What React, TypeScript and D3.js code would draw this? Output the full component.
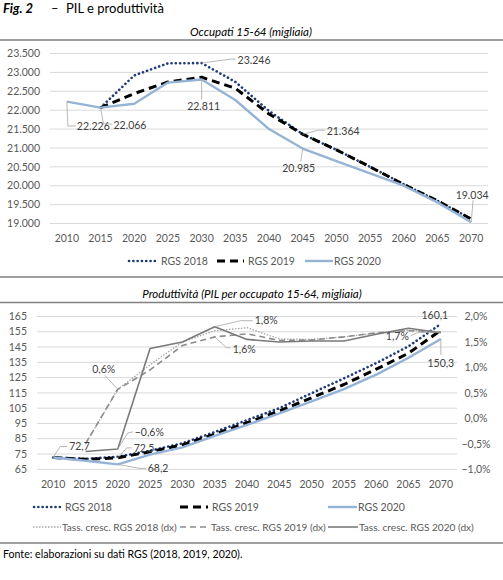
import React from 'react';
import * as d3 from 'd3';

// ---------- DATA ----------
const years = ['2010', '2015', '2020', '2025', '2030', '2035', '2040', '2045', '2050', '2055', '2060', '2065', '2070'];

// Occupati 15-64 (migliaia)
const occRGS2018: (number | null)[] = [null, 22066, 22920, 23240, 23246, 22750, 21980, 21364, 20950, 20500, 20040, 19600, 19120];
const occRGS2019: (number | null)[] = [null, 22066, 22440, 22745, 22870, 22580, 21900, 21364, 20950, 20500, 20030, 19600, 19120];
const occRGS2020: (number | null)[] = [22226, 22066, 22170, 22730, 22811, 22270, 21500, 20985, 20650, 20330, 20000, 19560, 19034];
const occTicks = [19000, 19500, 20000, 20500, 21000, 21500, 22000, 22500, 23000, 23500];

// Produttività (PIL per occupato 15-64, migliaia)
const prodRGS2018: (number | null)[] = [72.7, 71.8, 73.2, 77.2, 82.0, 89.4, 97.2, 105.0, 114.8, 124.5, 134.5, 145.5, 160.1];
const prodRGS2019: (number | null)[] = [72.7, 71.5, 72.5, 76.5, 81.0, 88.0, 95.5, 103.2, 111.8, 120.5, 130.5, 141.0, 156.0];
const prodRGS2020: (number | null)[] = [72.7, 70.6, 68.2, 74.6, 79.4, 86.8, 94.0, 101.6, 109.5, 117.5, 127.0, 138.0, 150.3];
// Tassi di crescita (%) – asse destro
const growthRGS2018: (number | null)[] = [null, -0.5, 0.57, 1.05, 1.5, 1.72, 1.78, 1.56, 1.55, 1.6, 1.67, 1.73, 1.7];
const growthRGS2019: (number | null)[] = [null, -0.5, 0.57, 0.95, 1.43, 1.6, 1.66, 1.53, 1.54, 1.6, 1.68, 1.72, 1.7];
const growthRGS2020: (number | null)[] = [null, -0.65, -0.6, 1.37, 1.5, 1.8, 1.55, 1.5, 1.52, 1.52, 1.65, 1.77, 1.68];
const prodTicks = [65, 75, 85, 95, 105, 115, 125, 135, 145, 155, 165];
const growthTicks = [-1.0, -0.5, 0.0, 0.5, 1.0, 1.5, 2.0];

// ---------- STYLE ----------
const FONT = 'Lato, "Open Sans", sans-serif';
const TICK = '#595959';
const LABEL = '#404040';
const GRID = '#d9d9d9';
const SEP = '#7f7f7f';

const itLocale = d3.formatLocale({ decimal: ',', thousands: '.', grouping: [3], currency: ['€', ''] });
const fmtThousands = itLocale.format(',.0f');
const fmtOne = itLocale.format('.1f');
const fmtPct = (v: number) => itLocale.format('.1f')(v) + '%';

type Series = { name: string; values: (number | null)[]; stroke: string; width: number; dash?: string; cap?: string };

const occSeries: Series[] = [
  { name: 'RGS 2018', values: occRGS2018, stroke: '#1f3a78', width: 2.6, dash: '0.1 4.2', cap: 'round' },
  { name: 'RGS 2019', values: occRGS2019, stroke: '#000000', width: 3, dash: '8 5' },
  { name: 'RGS 2020', values: occRGS2020, stroke: '#95b3d7', width: 2.4 },
];
const prodSeries: Series[] = [
  { name: 'RGS 2018', values: prodRGS2018, stroke: '#1f3a78', width: 2.6, dash: '0.1 4.2', cap: 'round' },
  { name: 'RGS 2019', values: prodRGS2019, stroke: '#000000', width: 3, dash: '8 5' },
  { name: 'RGS 2020', values: prodRGS2020, stroke: '#95b3d7', width: 2.4 },
];
const growthSeries: Series[] = [
  { name: 'Tass. cresc. RGS 2018 (dx)', values: growthRGS2018, stroke: '#a6a6a6', width: 1.3, dash: '1.5 1.5' },
  { name: 'Tass. cresc. RGS 2019 (dx)', values: growthRGS2019, stroke: '#8c8c8c', width: 1.6, dash: '6 4' },
  { name: 'Tass. cresc. RGS 2020 (dx)', values: growthRGS2020, stroke: '#7a7a7a', width: 1.6 },
];

function linePath(values: (number | null)[], x: d3.ScaleBand<string>, y: d3.ScaleLinear<number, number>) {
  const gen = d3
    .line<number | null>()
    .defined((d) => d !== null)
    .x((_, i) => (x(years[i]) as number) + x.bandwidth() / 2)
    .y((d) => y(d as number));
  return gen(values) || '';
}

function SeriesPath({ s, x, y }: { s: Series; x: d3.ScaleBand<string>; y: d3.ScaleLinear<number, number> }) {
  return (
    <path
      d={linePath(s.values, x, y)}
      fill="none"
      stroke={s.stroke}
      strokeWidth={s.width}
      strokeDasharray={s.dash}
      strokeLinecap={(s.cap as any) || 'butt'}
      strokeLinejoin="round"
    />
  );
}

type Lab = { text: string; px: number; py: number; pts: [number, number][]; tx: number; ty: number; anchor?: string };

function DataLabel({ l }: { l: Lab }) {
  const pts = [[l.px, l.py], ...l.pts];
  return (
    <g>
      {l.pts.length > 0 && (
        <polyline points={pts.map((p) => p.join(',')).join(' ')} fill="none" stroke="#a6a6a6" strokeWidth={0.8} />
      )}
      <text x={l.tx} y={l.ty} dy="0.35em" textAnchor={(l.anchor as any) || 'start'} fontSize={10.5} fill={LABEL} fontFamily={FONT}>
        {l.text}
      </text>
    </g>
  );
}

function LegendItem({ s, x, y, len, gap, fs = 10.5 }: { s: Series; x: number; y: number; len: number; gap: number; fs?: number }) {
  return (
    <g>
      <line x1={x} x2={x + len} y1={y} y2={y} stroke={s.stroke} strokeWidth={s.width} strokeDasharray={s.dash} strokeLinecap={(s.cap as any) || 'butt'} />
      <text x={x + len + gap} y={y} dy="0.35em" fontSize={fs} fill={TICK} fontFamily={FONT}>
        {s.name}
      </text>
    </g>
  );
}

export default function App() {
  // ---- top chart scales ----
  const xT = d3.scaleBand<string>().domain(years).range([50, 488]).padding(0);
  const yT = d3.scaleLinear().domain([19000, 23500]).range([223.5, 53.5]);
  const cx = (x: d3.ScaleBand<string>, i: number) => (x(years[i]) as number) + x.bandwidth() / 2;

  // ---- bottom chart scales ----
  const xB = d3.scaleBand<string>().domain(years).range([37, 457]).padding(0);
  const yB = d3.scaleLinear().domain([65, 165]).range([469.3, 316.5]);
  const yR = d3.scaleLinear().domain([-1, 2]).range([469.3, 316.5]);

  const topLabels: Lab[] = [
    (() => { const px = cx(xT, 0), py = yT(occRGS2020[0] as number); return { text: fmtThousands(occRGS2020[0] as number), px, py, pts: [[px + 1, 126], [px + 9, 126]] as [number, number][], tx: px + 10, ty: 126 }; })(),
    (() => { const px = cx(xT, 1), py = yT(occRGS2020[1] as number); return { text: fmtThousands(occRGS2020[1] as number), px, py, pts: [[px + 3, 124], [px + 12, 124]] as [number, number][], tx: px + 13, ty: 125 }; })(),
    (() => { const px = cx(xT, 4), py = yT(occRGS2018[4] as number); return { text: fmtThousands(occRGS2018[4] as number), px, py, pts: [[px + 29, py - 4], [px + 34, py - 4]] as [number, number][], tx: px + 36, ty: py - 3 }; })(),
    (() => { const px = cx(xT, 4), py = yT(occRGS2020[4] as number); return { text: fmtThousands(occRGS2020[4] as number), px, py, pts: [[px, py + 20]] as [number, number][], tx: px + 2, ty: py + 27, anchor: 'middle' }; })(),
    (() => { const px = cx(xT, 7), py = yT(occRGS2019[7] as number); return { text: fmtThousands(occRGS2019[7] as number), px, py, pts: [[px + 16, py - 4], [px + 22, py - 4]] as [number, number][], tx: px + 24, ty: py - 3 }; })(),
    (() => { const px = cx(xT, 7), py = yT(occRGS2020[7] as number); return { text: fmtThousands(occRGS2020[7] as number), px, py, pts: [[px - 2, py + 13]] as [number, number][], tx: px - 4, ty: py + 20, anchor: 'middle' }; })(),
    (() => { const px = cx(xT, 12), py = yT(occRGS2020[12] as number); return { text: fmtThousands(occRGS2020[12] as number), px, py, pts: [[px + 2, py - 22]] as [number, number][], tx: px + 1, ty: py - 27, anchor: 'middle' }; })(),
  ];

  const botLabels: Lab[] = [
    (() => { const px = cx(xB, 0), py = yB(prodRGS2020[0] as number); return { text: fmtOne(prodRGS2020[0] as number), px, py, pts: [[px + 7, py - 11], [px + 14, py - 11]] as [number, number][], tx: px + 16, ty: py - 11 }; })(),
    (() => { const px = cx(xB, 2), py = yB(prodRGS2019[2] as number); return { text: fmtOne(prodRGS2019[2] as number), px, py, pts: [[px + 9, py - 10], [px + 14, py - 10]] as [number, number][], tx: px + 16, ty: py - 10 }; })(),
    (() => { const px = cx(xB, 2), py = yB(prodRGS2020[2] as number); return { text: fmtOne(prodRGS2020[2] as number), px, py, pts: [[px + 22, py + 4], [px + 28, py + 4]] as [number, number][], tx: px + 30, ty: py + 4 }; })(),
    (() => { const px = cx(xB, 2), py = yR(growthRGS2020[2] as number); return { text: fmtPct(growthRGS2020[2] as number), px, py, pts: [[px + 10, py - 16], [px + 15, py - 17]] as [number, number][], tx: px + 17, ty: py - 17 }; })(),
    (() => { const px = cx(xB, 2), py = yR(growthRGS2019[2] as number); return { text: fmtPct(growthRGS2019[2] as number), px, py, pts: [[px - 13, py - 14]] as [number, number][], tx: px - 14, ty: py - 20, anchor: 'middle' }; })(),
    (() => { const px = cx(xB, 5), py = yR(growthRGS2020[5] as number); return { text: fmtPct(growthRGS2020[5] as number), px, py, pts: [[px + 26, py - 6], [px + 38, py - 6]] as [number, number][], tx: px + 40, ty: py - 6 }; })(),
    (() => { const px = cx(xB, 5), py = yR(growthRGS2019[5] as number); return { text: fmtPct(growthRGS2019[5] as number), px, py, pts: [[px + 12, py + 11], [px + 16, py + 11]] as [number, number][], tx: px + 18, ty: py + 12 }; })(),
    (() => { const px = cx(xB, 12), py = yR(growthRGS2019[12] as number); return { text: fmtPct(growthRGS2019[12] as number), px, py, pts: [[px - 24, py + 1], [px - 30, py + 4]] as [number, number][], tx: px - 32, ty: py + 5, anchor: 'end' }; })(),
    (() => { const px = cx(xB, 12), py = yB(prodRGS2018[12] as number); return { text: fmtOne(prodRGS2018[12] as number), px, py, pts: [] as [number, number][], tx: px - 6, ty: py - 9, anchor: 'middle' }; })(),
    (() => { const px = cx(xB, 12), py = yB(prodRGS2020[12] as number); return { text: fmtOne(prodRGS2020[12] as number), px, py, pts: [[px, py + 16]] as [number, number][], tx: px, ty: py + 24, anchor: 'middle' }; })(),
  ];

  return (
    <svg width={503} height={580} style={{ position: 'absolute', left: 0, top: 0, background: '#fff' }} fontFamily={FONT}>
      <rect width={503} height={580} fill="#fff" />
      {/* Header */}
      <text x={3} y={13} fontSize={13} fill="#000">
        <tspan fontWeight="bold" fontStyle="italic">Fig. 2</tspan>
        <tspan x={51}>–</tspan>
        <tspan x={66}>PIL e produttività</tspan>
      </text>

      {/* ---------- TOP CHART ---------- */}
      <text x={251} y={36} textAnchor="middle" fontSize={11.5} fontStyle="italic" fill="#000">Occupati 15-64 (migliaia)</text>
      <line x1={0} x2={503} y1={40} y2={40} stroke={SEP} strokeWidth={1.5} />
      {occTicks.map((t) => (
        <g key={t}>
          <line x1={50} x2={488} y1={yT(t)} y2={yT(t)} stroke={GRID} strokeWidth={1} />
          <text x={40} y={yT(t)} dy="0.35em" textAnchor="end" fontSize={10.5} fill={TICK}>{fmtThousands(t)}</text>
        </g>
      ))}
      {years.map((yr, i) => (
        <text key={yr} x={cx(xT, i)} y={238} dy="0.35em" textAnchor="middle" fontSize={10.5} fill={TICK}>{yr}</text>
      ))}
      {occSeries.map((s) => <SeriesPath key={s.name} s={s} x={xT} y={yT} />)}
      {topLabels.map((l, i) => <DataLabel key={i} l={l} />)}
      <LegendItem s={occSeries[0]} x={129} y={261} len={26} gap={6} />
      <LegendItem s={occSeries[1]} x={217} y={261} len={27} gap={4} />
      <LegendItem s={occSeries[2]} x={305} y={261} len={28} gap={1} />
      <line x1={0} x2={503} y1={277} y2={277} stroke={SEP} strokeWidth={1.5} />

      {/* ---------- BOTTOM CHART ---------- */}
      <text x={252} y={298} textAnchor="middle" fontSize={11.5} fontStyle="italic" fill="#000">Produttività (PIL per occupato 15-64, migliaia)</text>
      <line x1={0} x2={503} y1={302.5} y2={302.5} stroke={SEP} strokeWidth={1.5} />
      {prodTicks.map((t) => (
        <g key={t}>
          <line x1={37} x2={457} y1={yB(t)} y2={yB(t)} stroke={GRID} strokeWidth={1} />
          <text x={27} y={yB(t)} dy="0.35em" textAnchor="end" fontSize={10.5} fill={TICK}>{t}</text>
        </g>
      ))}
      {growthTicks.map((t) => (
        <text key={t} x={476} y={yR(t)} dy="0.35em" textAnchor="middle" fontSize={10.5} fill={TICK}>{fmtPct(t)}</text>
      ))}
      {years.map((yr, i) => (
        <text key={yr} x={cx(xB, i)} y={484} dy="0.35em" textAnchor="middle" fontSize={10.5} fill={TICK}>{yr}</text>
      ))}
      {prodSeries.map((s) => <SeriesPath key={s.name} s={s} x={xB} y={yB} />)}
      {growthSeries.map((s) => <SeriesPath key={s.name} s={s} x={xB} y={yR} />)}
      {botLabels.map((l, i) => <DataLabel key={i} l={l} />)}
      <LegendItem s={prodSeries[0]} x={34} y={507} len={26} gap={5} />
      <LegendItem s={prodSeries[1]} x={180} y={507} len={28} gap={4} />
      <LegendItem s={prodSeries[2]} x={328} y={507} len={29} gap={1} />
      <LegendItem s={growthSeries[0]} x={33} y={527} len={28} gap={1} fs={10.1} />
      <LegendItem s={growthSeries[1]} x={180} y={527} len={30} gap={1} fs={10.1} />
      <LegendItem s={growthSeries[2]} x={328} y={527} len={30} gap={1} fs={10.1} />
      <line x1={0} x2={503} y1={543} y2={543} stroke={SEP} strokeWidth={1.5} />

      <text x={3} y={558} fontSize={10.6} fill="#000">Fonte: elaborazioni su dati RGS (2018, 2019, 2020).</text>
    </svg>
  );
}
